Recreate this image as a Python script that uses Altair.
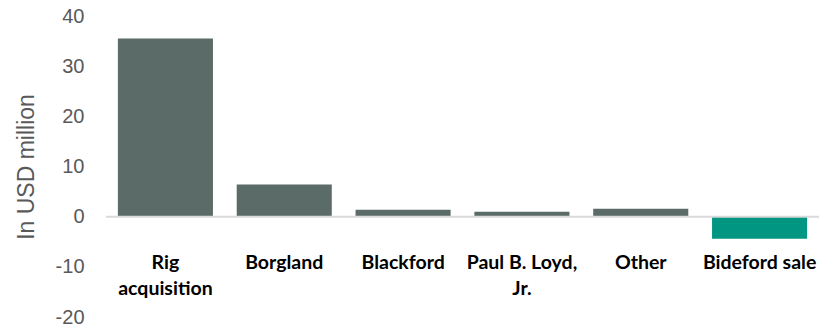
import altair as alt
import pandas as pd

categories = ["Rig acquisition", "Borgland", "Blackford", "Paul B. Loyd, Jr.", "Other", "Bideford sale"]
label_lines = ["Rig|acquisition", "Borgland", "Blackford", "Paul B. Loyd,|Jr.", "Other", "Bideford sale"]
values = [35.5, 6.4, 1.4, 1.0, 1.6, -4.4]
colors = ["#5a6b68", "#5a6b68", "#5a6b68", "#5a6b68", "#5a6b68", "#009681"]

df = pd.DataFrame({"cat": categories, "label": label_lines, "value": values, "color": colors})

x = alt.X("cat:N", sort=categories, axis=None,
          scale=alt.Scale(paddingInner=0.2, paddingOuter=0.1))

bars = alt.Chart(df).mark_bar().encode(
    x=x,
    y=alt.Y("value:Q",
            scale=alt.Scale(domain=[-20, 40], nice=False),
            axis=alt.Axis(values=[-20, -10, 0, 10, 20, 30, 40], title="In USD million",
                          grid=False, domain=False, ticks=False,
                          labelExpr="datum.value + ''",
                          labelFont="Liberation Sans", labelFontSize=20, labelColor="#595959",
                          labelPadding=22,
                          titleFont="Liberation Sans", titleFontSize=23, titleColor="#595959",
                          titleFontWeight="normal", titlePadding=17)),
    color=alt.Color("color:N", scale=None),
)

zero = alt.Chart(pd.DataFrame({"z": [0]})).mark_rule(color="#d9d9d9", strokeWidth=2).encode(y="z:Q")

labels = alt.Chart(df).mark_text(lineBreak="|", font="Lato", fontWeight="bold", fontSize=19.5,
                                 baseline="top", align="center", color="#000000",
                                 lineHeight=26).encode(
    x=x,
    y=alt.value(238),
    text="label:N",
)

chart = alt.layer(bars, zero, labels).properties(
    width=713, height=301,
    autosize=alt.AutoSizeParams(type="none"),
    padding={"left": 106, "top": 16, "right": 12, "bottom": 11},
).configure_view(stroke=None)

chart.save("out.html", embed_options={"renderer": "svg", "actions": False})
